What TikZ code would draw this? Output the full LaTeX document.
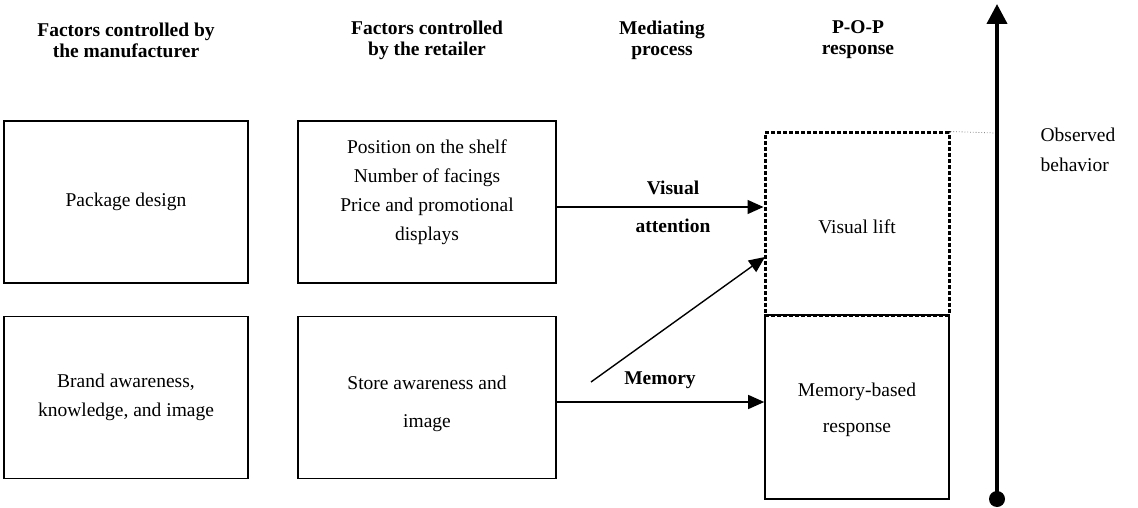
\documentclass[tikz,border=0pt]{standalone}
\usepackage{fontspec}
\setmainfont{Liberation Serif}
\usetikzlibrary{arrows.meta}
\begin{document}
\begin{tikzpicture}[x=1pt,y=-1pt,
  every node/.style={font=\fontsize{19.5}{29}\selectfont, align=center},
  hdr/.style={font=\fontsize{19.5}{21}\selectfont\bfseries, align=center},
  box/.style={draw, line width=1.6pt, inner sep=0pt},
  dotbox/.style={draw, line width=3pt, dash pattern=on 4pt off 2pt, inner sep=0pt},
  conn/.style={line width=1.4pt, -{Triangle[length=16pt,width=14pt]}},
  lab/.style={font=\fontsize{19.5}{38}\selectfont\bfseries, align=center}]
\useasboundingbox (0,0) rectangle (1138,508);
% headers
\node[hdr] (h1) at (126,40) {Factors controlled by\\the manufacturer};
\node[hdr] (h2) at (427,40) {Factors controlled\\by the retailer};
\node[hdr] (h3) at (662,40) {Mediating\\process};
\node[hdr] (h4) at (858,40) {P-O-P\\response};
% boxes
\node[box, minimum width=244pt, minimum height=162pt] (pkg) at (126,202) {Package design};
\node[box, minimum width=244pt, minimum height=162pt] (brand) at (126,397.5) {Brand awareness,\\knowledge, and image};
\node[box, minimum width=258pt, minimum height=162pt] (ret1) at (427,202) {};
\node (ret1t) at (427,192.5) {Position on the shelf\\Number of facings\\Price and promotional\\displays};
\node[box, minimum width=258pt, minimum height=162pt] (ret2) at (427,397.5) {};
\node[font=\fontsize{19.5}{38}\selectfont] (ret2t) at (427,404) {Store awareness and\\image};
\node[dotbox, minimum width=184pt, minimum height=182pt] (vis) at (857,224) {};
\node (vist) at (857,227) {Visual lift};
\node[box, minimum width=184pt, minimum height=184pt] (mem) at (857,407) {};
\node[font=\fontsize{19.5}{36}\selectfont] (memt) at (857,410) {Memory-based\\response};
% arrows
\coordinate (va) at (ret1.east |- 0,207);
\coordinate (vb) at (vis.west |- 0,207);
\draw[conn] (va) -- (vb);
\node[lab] (vlab) at (673,207) {Visual\\attention};
\coordinate (da) at (591,382);
\coordinate (db) at (765,257);
\draw[conn] (da) -- (db);
\coordinate (ma) at (ret2.east |- 0,402);
\coordinate (mb) at (mem.west |- 0,402);
\draw[conn] (ma) -- (mb);
\node[font=\fontsize{19.5}{20}\selectfont\bfseries] (mlab) at (660,380) {Memory};
% axis
\coordinate (ax0) at (997,499);
\coordinate (ax1) at (997,4);
\draw[line width=4pt, -{Triangle[length=20pt,width=20pt]}] (ax0) -- (ax1);
\fill (ax0) circle (8pt);
\coordinate (axd) at (995,133);
\draw[gray, line width=0.8pt, dotted] (vis.north east) -- (axd);
\node[align=left, font=\fontsize{19.5}{30}\selectfont] (obs) at (1078,150) {Observed\\behavior};
\end{tikzpicture}
\end{document}
